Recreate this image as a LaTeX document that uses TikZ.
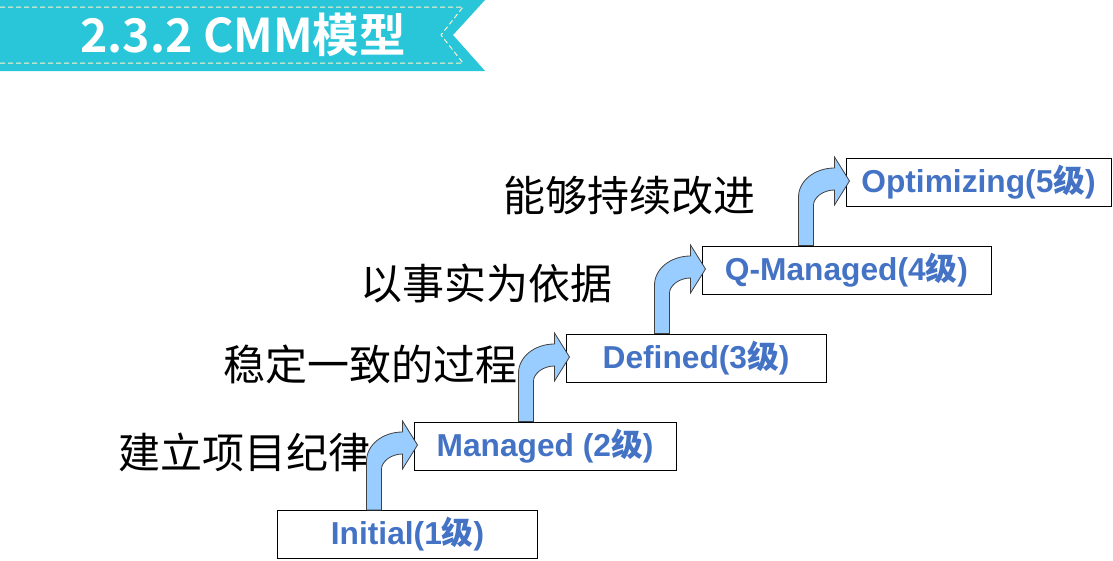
\documentclass[tikz,border=0pt]{standalone}
\usepackage{fontspec}
\setmainfont{Liberation Sans}
\newfontfamily\cjk{Noto Sans CJK SC}
\newfontfamily\cjkbold{Noto Sans CJK SC Bold}
\usetikzlibrary{calc}
\definecolor{bannercyan}{HTML}{29C5D8}
\definecolor{dashcream}{HTML}{FFF4CC}
\definecolor{levelblue}{HTML}{4472C4}
\definecolor{arrowblue}{HTML}{99CCFF}
\definecolor{arrowedge}{HTML}{404040}
\tikzset{
  levelbox/.style={draw=black, line width=1pt, minimum width=260pt, minimum height=48pt,
    inner sep=0pt, text=levelblue, font=\fontsize{31.7}{33}\selectfont\bfseries},
  goal/.style={anchor=west, inner sep=0pt, font=\cjk\fontsize{42}{44}\selectfont},
  steparrow/.style={fill=arrowblue, draw=arrowedge, line width=0.8pt, line join=miter}
}
\newcommand{\ji}{{\cjkbold 级}}

\begin{document}
\begin{tikzpicture}[x=1pt, y=-1pt]
  \useasboundingbox (0,0) rectangle (1113,560);

  % title banner
  \fill[bannercyan] (0,0) -- (485,0) -- (453,35) -- (485,71) -- (0,71) -- cycle;
  \draw[dashcream, line width=1pt, dash pattern=on 5pt off 3pt]
    (0,7) -- (463,7) -- (441,35) -- (463,63) -- (0,63);
  \node[text=white, font=\cjkbold\fontsize{46.5}{48}\selectfont] (title) at (243,35) {2.3.2 CMM模型};

  % maturity levels
  \node[levelbox] (l1) at (407.5,534.5) {Initial(1\ji)};
  \node[levelbox, minimum width=262pt] (l2) at (545,446) {Managed (2\ji)};
  \node[levelbox] (l3) at (696,358) {Defined(3\ji)};
  \node[levelbox, minimum width=289pt] (l4) at (846.5,270) {Q-Managed(4\ji)};
  \node[levelbox, minimum width=265pt] (l5) at (978.5,182) {Optimizing(5\ji)};

  % what each step brings
  \node[goal] (g1) at (118,452) {建立项目纪律};
  \node[goal] (g2) at (223,364) {稳定一致的过程};
  \node[goal] (g3) at (360,284) {以事实为依据};
  \node[goal] (g4) at (503,196) {能够持续改进};

  % bent arrows between levels
  \foreach \lo/\up in {l1/l2,l2/l3,l3/l4,l4/l5}{
    \coordinate (w) at (\up.west);
    \coordinate (b) at (\lo.north);
    \path (w) ++(-47,0) coordinate (p1);
    \path (w) ++(-32,0) coordinate (p2);
    \draw[steparrow] (p1 |- b) -- ($(w)+(-47,15)$)
      .. controls ($(w)+(-47,-1)$) and ($(w)+(-31,-14)$) .. ($(w)+(-11,-14)$)
      -- ($(w)+(-11,-25)$) -- ($(w)+(4,-1)$) -- ($(w)+(-11,23)$) -- ($(w)+(-11,8)$)
      .. controls ($(w)+(-23,8)$) and ($(w)+(-32,16)$) .. ($(w)+(-32,23)$)
      -- (p2 |- b) -- cycle;
  }
\end{tikzpicture}
\end{document}
